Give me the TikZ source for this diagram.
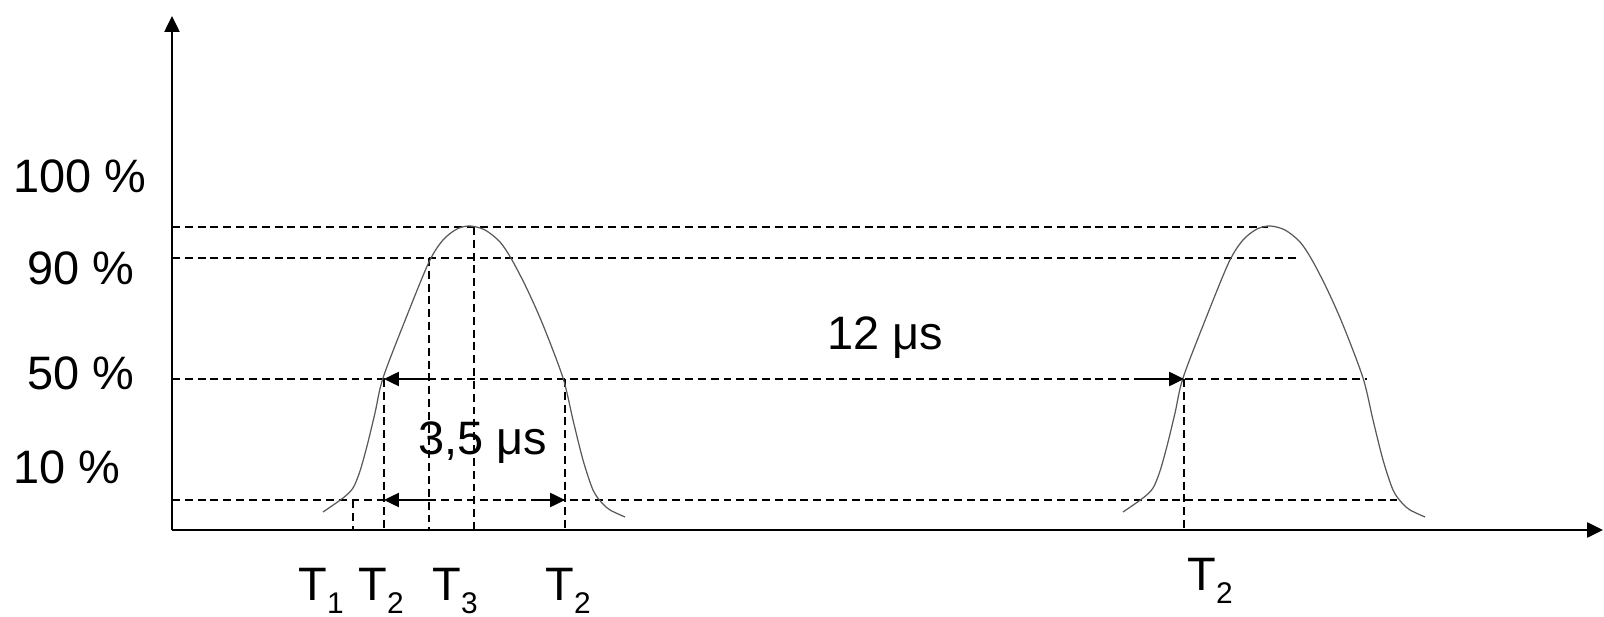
\documentclass[tikz,border=0pt]{standalone}
\usepackage{fontspec}
\setmainfont{Liberation Sans}
\usetikzlibrary{arrows.meta}
\newcommand{\Tlab}[1]{T\raisebox{-7.5pt}{\fontsize{17pt}{17pt}\selectfont #1}}

\begin{document}
\begin{tikzpicture}[x=0.02cm, y=-0.02cm,
    guide/.style={dash pattern=on 4.5pt off 2.8pt, line width=1pt},
    axisline/.style={line width=1.2pt, -{Triangle[length=9pt,width=8.5pt]}},
    span/.style={line width=1.2pt, -{Triangle[length=8.5pt,width=8pt]}},
    pulse/.style={black!65, line width=0.7pt},
    lbl/.style={anchor=base west, inner sep=0pt, font=\fontsize{26.7pt}{32pt}\selectfont}]
    \useasboundingbox (0,0) rectangle (1604,617);

    % Level lines
    \draw[guide] (172,227) -- (1268,227);
    \draw[guide] (172,258) -- (1300,258);
    \draw[guide] (172,379) -- (1367,379);
    \draw[guide] (172,500) -- (1397,500);

    % Time marks
    \draw[guide] (353,500) -- (353,530);
    \draw[guide] (384,379) -- (384,530);
    \draw[guide] (429,258) -- (429,530);
    \draw[guide] (474,227) -- (474,530);
    \draw[guide] (565,379) -- (565,530);
    \draw[guide] (1184,379) -- (1184,530);

    % Pulses
    \foreach \dx in {0,800} {
        \draw[pulse, shift={(\dx,0)}] plot[smooth, tension=0.5] coordinates {
            (323,512) (343,498) (353,488) (360,471) (367,446) (375,413)
            (383,378) (406,318) (429,262) (443,240) (457,229)
            (470,226) (485,230) (500,242) (512,260) (527,289) (543,325)
            (563,378) (573,420) (583,460) (593,490) (602,503) (610,510)
            (625,517)};
    }

    % Axes
    \coordinate (O) at (172,530);
    \coordinate (ytip) at (172,16);
    \coordinate (xtip) at (1603,530);
    \draw[axisline] (O) -- (ytip);
    \draw[axisline] (O) -- (xtip);

    % Width arrows
    \coordinate (w50a) at (429,379);
    \coordinate (w50b) at (384,379);
    \coordinate (w10a) at (429,500);
    \coordinate (w10b) at (384,500);
    \coordinate (w10c) at (535,500);
    \coordinate (w10d) at (565,500);
    \coordinate (p50a) at (1138,379);
    \coordinate (p50b) at (1184,379);
    \draw[span] (w50a) -- (w50b);
    \draw[span] (w10a) -- (w10b);
    \draw[span] (w10c) -- (w10d);
    \draw[span] (p50a) -- (p50b);

    % Level labels
    \node[lbl] (l100) at (13,193) {100 \%};
    \node[lbl] (l90) at (27,285) {90 \%};
    \node[lbl] (l50) at (27,390) {50 \%};
    \node[lbl] (l10) at (13,483) {10 \%};

    % Durations
    \node[lbl] (period) at (827,350) {12 μs};
    \node[lbl] (width) at (418,455) {3,5 μs};

    % Time labels
    \node[lbl] (t1) at (298,600) {\Tlab{1}};
    \node[lbl] (t2) at (358,600) {\Tlab{2}};
    \node[lbl] (t3) at (432,600) {\Tlab{3}};
    \node[lbl] (t2b) at (545,600) {\Tlab{2}};
    \node[lbl] (t2c) at (1187,590) {\Tlab{2}};
\end{tikzpicture}
\end{document}
